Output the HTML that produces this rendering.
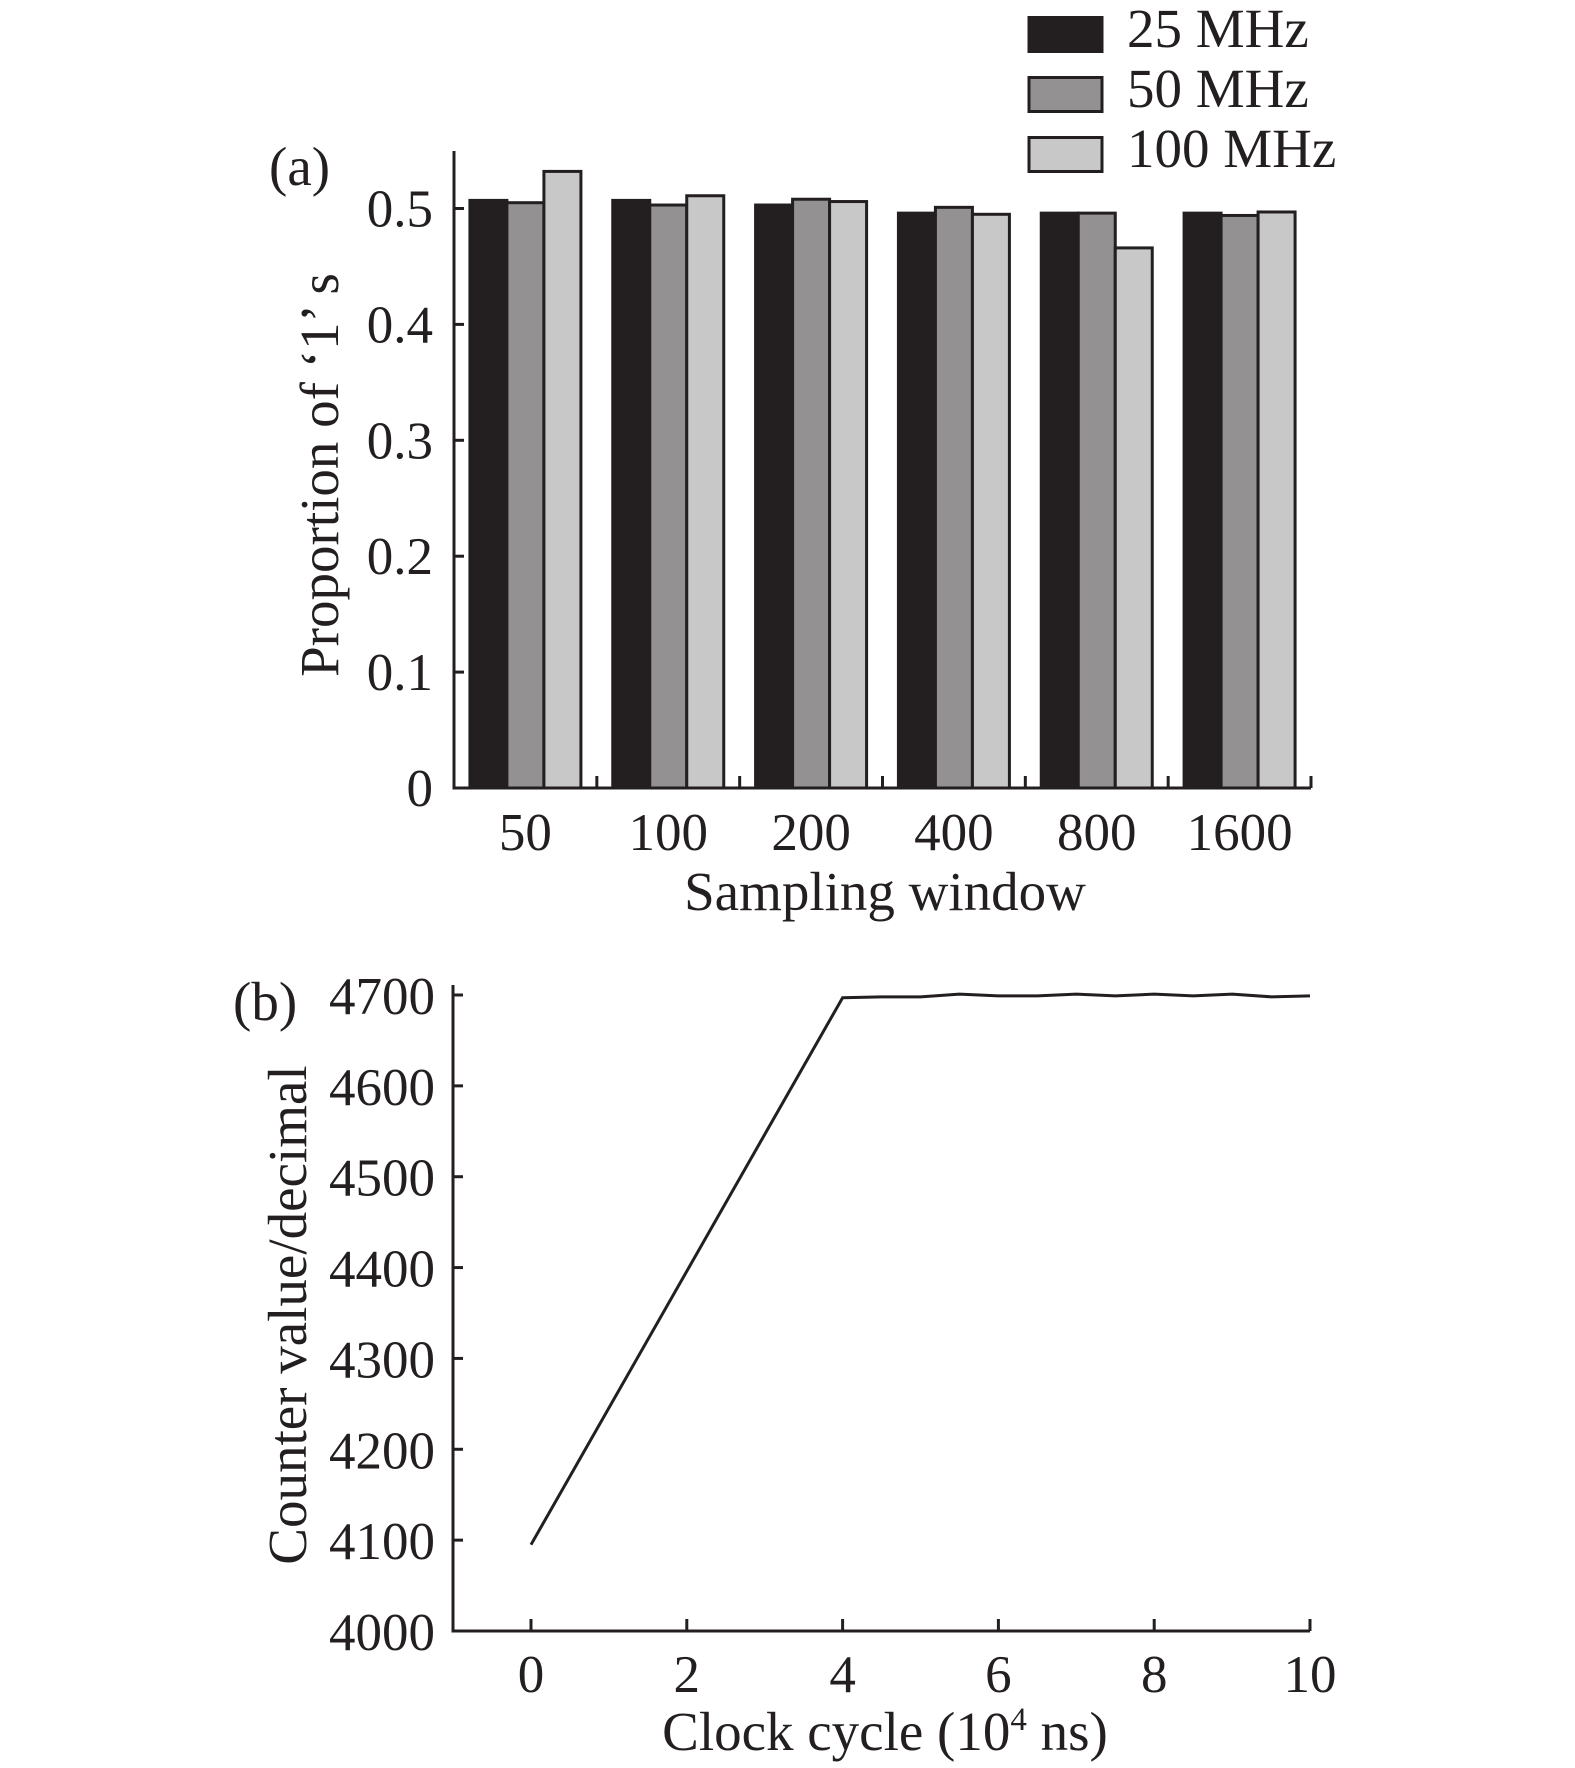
<!DOCTYPE html>
<html><head><meta charset="utf-8"><style>
html,body{margin:0;padding:0;background:#fff}
svg{display:block}
text{font-family:"Liberation Serif",serif;fill:#231f20}
</style></head><body>
<svg width="1575" height="1768" viewBox="0 0 1575 1768" xmlns="http://www.w3.org/2000/svg">
<g id="chartA"></g>
<g id="chartB"></g>
</svg>
<script>
const categories=["50","100","200","400","800","1600"];
const series25=[0.507,0.507,0.503,0.496,0.496,0.496];
const series50=[0.505,0.503,0.508,0.501,0.496,0.494];
const series100=[0.532,0.511,0.506,0.495,0.466,0.497];
const seriesNames=["25 MHz","50 MHz","100 MHz"];
const yTicksA=[0,0.1,0.2,0.3,0.4,0.5];
const lineX=[0,4,4.5,5,5.5,6,6.5,7,7.5,8,8.5,9,9.5,10];
const lineY=[4095,4697,4698,4698,4701,4699,4699,4701,4699,4701,4699,4701,4698,4699];
const xTicksB=[0,2,4,6,8,10];
const yTicksB=[4000,4100,4200,4300,4400,4500,4600,4700];

const NS="http://www.w3.org/2000/svg";
function mk(tag,attrs,parent,txt){const e=document.createElementNS(NS,tag);for(const k in attrs)e.setAttribute(k,attrs[k]);if(txt!==undefined)e.textContent=txt;parent.appendChild(e);return e;}
const fills=["#231f20","#939192","#c8c8c8"];
const data=[series25,series50,series100];

// Chart A
const A=document.getElementById('chartA');
const ax0=454, ax1=1311, ay0=788, ayTop=151;
const yA=v=>ay0-(v/0.5)*(ay0-208.5);
const bin=(ax1-ax0)/categories.length;
const bw=37;
categories.forEach((c,i)=>{
  const cx=ax0+bin*(i+0.5);
  data.forEach((s,j)=>{
    const x=cx-1.5*bw+j*bw;
    const r=mk('rect',{x:x,y:yA(s[i]),width:bw,height:ay0-yA(s[i]),fill:fills[j],stroke:"#231f20","stroke-width":3},A);
    
    
  });
  const t=mk('text',{x:cx,y:850,"font-size":53,"text-anchor":"middle"},A,c);
  
  
  if(i>0){mk('line',{x1:ax0+bin*i,x2:ax0+bin*i,y1:ay0,y2:ay0-12,stroke:"#231f20","stroke-width":3},A);}
});
mk('line',{x1:ax0,x2:ax0,y1:ayTop,y2:ay0+1.5,stroke:"#231f20","stroke-width":3},A);
mk('line',{x1:ax0,x2:ax1,y1:ay0,y2:ay0,stroke:"#231f20","stroke-width":3},A);
mk('line',{x1:ax1,x2:ax1,y1:ay0,y2:ay0-12,stroke:"#231f20","stroke-width":3},A);
yTicksA.forEach(v=>{
  mk('line',{x1:ax0,x2:ax0+10,y1:yA(v),y2:yA(v),stroke:"#231f20","stroke-width":3},A);
  const t=mk('text',{x:433,y:yA(v)+18,"font-size":53,"text-anchor":"end"},A,v===0?"0":v.toFixed(1));
  
  
});
let t=mk('text',{x:885,y:910,"font-size":55,"text-anchor":"middle"},A,"Sampling window");


t=mk('text',{x:0,y:0,"font-size":55,"text-anchor":"middle",transform:"translate(338,475) rotate(-90)"},A,"Proportion of \u20181\u2019 s");


t=mk('text',{x:269,y:185,"font-size":55},A,"(a)");


seriesNames.forEach((n,j)=>{
  const y=16+j*60;
  const r=mk('rect',{x:1029,y:y+1.5,width:73,height:34,fill:fills[j],stroke:"#231f20","stroke-width":3},A);
  
  
  const tt=mk('text',{x:1127,y:y+31,"font-size":55},A,n);
  
  
});

// Chart B
const B=document.getElementById('chartB');
const bx0=453, bx1=1310, by0=1631;
const xB=v=>531+v*(1310-531)/10;
const yB=v=>by0-(v-4000)*(by0-995)/700;
mk('line',{x1:bx0,x2:bx0,y1:985,y2:by0+1.5,stroke:"#231f20","stroke-width":3},B);
mk('line',{x1:bx0,x2:bx1,y1:by0,y2:by0,stroke:"#231f20","stroke-width":3},B);
yTicksB.forEach(v=>{
  mk('line',{x1:bx0,x2:bx0+10,y1:yB(v),y2:yB(v),stroke:"#231f20","stroke-width":3},B);
  const tt=mk('text',{x:435,y:yB(v)+19,"font-size":53,"text-anchor":"end"},B,String(v));
  
  
});
xTicksB.forEach(v=>{
  mk('line',{x1:xB(v),x2:xB(v),y1:by0,y2:by0-12,stroke:"#231f20","stroke-width":3},B);
  const tt=mk('text',{x:xB(v),y:1692,"font-size":53,"text-anchor":"middle"},B,String(v));
  
  
});
const pl=mk('polyline',{points:lineX.map((x,i)=>xB(x)+","+yB(lineY[i])).join(" "),fill:"none",stroke:"#231f20","stroke-width":3},B);


t=mk('text',{x:885,y:1750,"font-size":55,"text-anchor":"middle"},B,"");


mk('tspan',{},t,"Clock cycle (10");
mk('tspan',{dy:-20,"font-size":33},t,"4");
mk('tspan',{dy:20},t," ns)");
t=mk('text',{x:0,y:0,"font-size":55,"text-anchor":"middle",transform:"translate(306,1315) rotate(-90)"},B,"Counter value/decimal");


t=mk('text',{x:233,y:1020,"font-size":55},B,"(b)");


</script>
</body></html>
